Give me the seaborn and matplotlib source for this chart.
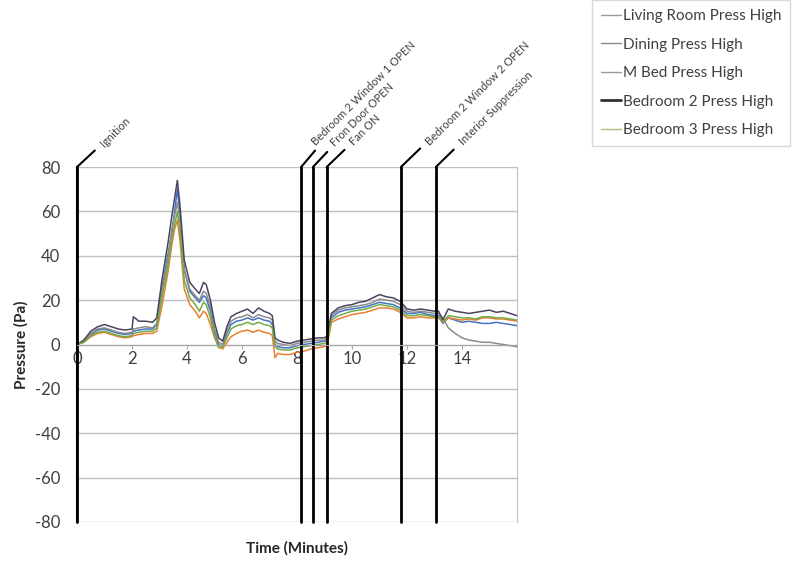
import numpy as np
import pandas as pd
import matplotlib
matplotlib.use("Agg")
import matplotlib.pyplot as plt
from matplotlib.lines import Line2D
import seaborn as sns

# time axis (minutes)
minutes = [0, 0.25, 0.5, 0.75, 1.0, 1.25, 1.5, 1.75, 2.0, 2.05,
           2.25, 2.5, 2.75, 2.9, 3.1, 3.3, 3.45, 3.55, 3.65, 3.75,
           3.9, 4.1, 4.3, 4.45, 4.6, 4.7, 4.85, 5.0, 5.15, 5.3,
           5.45, 5.6, 5.8, 6.0, 6.2, 6.4, 6.6, 6.8, 7.0, 7.1,
           7.2, 7.3, 7.5, 7.75, 8.0, 8.25, 8.5, 8.75, 9.0, 9.1,
           9.25, 9.5, 9.75, 10.0, 10.25, 10.5, 10.75, 11.0, 11.25, 11.5,
           11.75, 12.0, 12.25, 12.5, 12.75, 13.0, 13.15, 13.3, 13.5, 13.75,
           14.0, 14.25, 14.5, 14.75, 15.0, 15.25, 15.5, 15.75, 16.0]

living_room = [0, 1.5, 4.5, 6.5, 7, 6, 5, 4.5, 5, 6,
               6.5, 7, 7, 9, 26, 40, 50, 60, 70, 58,
               34, 24, 21, 19, 22, 21, 15, 6, 0, -1,
               5, 9, 10.5, 11, 12, 11, 12, 11, 10.5, 9,
               0, -1, -1.5, -1.5, -0.5, 0, 0.5, 1, 1.5, 2.5,
               12, 14.5, 15.5, 16, 16.5, 17, 18, 19, 18.5, 18,
               16.5, 14, 14, 14.5, 13.5, 13, 13, 9.5, 12, 11,
               10, 10.5, 10, 9.5, 9.5, 10, 9.5, 9, 8.5]

dining = [0, 1, 3.5, 5, 5.5, 4.5, 3.5, 3, 3.5, 4,
          4.5, 5, 5, 6, 18, 32, 45, 52, 56, 46,
          25, 18, 15, 12, 15, 14, 9, 3, -1, -2,
          1, 3.5, 5, 6, 6.5, 5.5, 6.5, 5.5, 5, 4,
          -6, -4, -4.5, -4.5, -3.5, -3, -2, -1.5, -1, 0,
          10, 11.5, 12.5, 13.5, 14, 14.5, 15.5, 16.5, 16.5, 16,
          14.5, 12, 12, 12.5, 12, 12, 12, 10, 12, 11.5,
          11, 11.5, 11, 12, 12, 11.5, 11.5, 11, 10.5]

m_bed = [0, 1.5, 5, 7, 7.5, 6.5, 5.5, 5, 5.5, 7,
         7.5, 8, 7.5, 9.5, 25, 38, 52, 58, 64, 55,
         33, 25, 22, 20, 24, 23, 17, 7, 1, 0,
         6, 10.5, 12, 12.5, 13.5, 12, 13.5, 12.5, 12, 11,
         1.5, 0.5, 0, -0.5, 0.5, 1, 1.5, 2, 2, 3,
         13, 15.5, 16.5, 17, 17.5, 18, 19, 20.5, 20, 19.5,
         18, 15, 14.5, 15, 14.5, 14, 14, 12, 7.5, 5,
         3, 2, 1.5, 1, 1, 0.5, 0, -0.5, -1]

bedroom_2 = [0, 2, 6, 8, 9, 8, 7, 6.5, 7, 12.5,
             10.5, 10.5, 10, 12, 30, 45, 58, 66, 74, 62,
             38, 28, 25, 23, 28, 27, 20, 10, 3, 1.5,
             8, 12.5, 14, 15, 16, 14, 16.5, 15, 14, 13,
             3, 2, 1, 0.5, 1.5, 2, 2.5, 3, 3, 4,
             14, 16.5, 17.5, 18, 19, 19.5, 21, 22.5, 21.5, 21,
             19.5, 16, 15.5, 16, 15.5, 15, 15, 11, 16, 15,
             14.5, 14, 14.5, 15, 15.5, 14.5, 15, 14, 13]

bedroom_3 = [0, 1, 4, 5.5, 6, 5, 4, 3.5, 4, 5,
             5.5, 6, 6, 7.5, 22, 35, 48, 54, 60, 50,
             29, 21, 18, 15, 19, 18, 12, 4, -1.5, -1,
             3, 7, 8.5, 9, 10, 9, 10, 9, 8.5, 7.5,
             -1, -2, -2.5, -2.5, -1.5, -1, -0.5, 0, 0.5, 1.5,
             11, 13, 14, 15, 15.5, 16, 17, 18, 17.5, 17,
             15.5, 13, 13, 13.5, 13, 12.5, 12.5, 10, 13, 12.5,
             12, 12, 11.5, 12.5, 12.5, 12, 12, 11.5, 11]

series_names = ["Living Room Press High", "Dining Press High", "M Bed Press High",
                "Bedroom 2 Press High", "Bedroom 3 Press High"]
series_values = [living_room, dining, m_bed, bedroom_2, bedroom_3]
line_colors = ["#4472C4", "#ED7D31", "#8C8C8C", "#4A4460", "#70AD47"]
legend_colors = ["#9A9A9A", "#8A8A8A", "#9A9A9A", "#303030", "#B8BC78"]

# events (minutes)
events = ["Ignition", "Bedroom 2 Window 1 OPEN", "Fron Door OPEN", "Fan ON",
          "Bedroom 2 Window 2 OPEN", "Interior Suppression"]
event_times = [0, 8.15, 8.58, 9.08, 11.78, 13.05]

frames = []
for name, vals in zip(series_names, series_values):
    frames.append(pd.DataFrame({"Time": minutes, "Pressure": vals, "Series": name}))
df = pd.concat(frames, ignore_index=True)

sns.set_style("white")
plt.rcParams["font.family"] = ["Lato", "DejaVu Sans"]
plt.rcParams["axes.unicode_minus"] = False

fig = plt.figure(figsize=(7.92, 5.67), dpi=100)
ax = fig.add_axes([77 / 792, 1 - 522 / 567, 440 / 792, 355 / 567])

sns.lineplot(data=df, x="Time", y="Pressure", hue="Series", hue_order=series_names,
             palette=dict(zip(series_names, line_colors)), linewidth=1.1,
             legend=False, ax=ax)

ax.set_xlim(0, 16)
ax.set_ylim(-80, 80)
ax.set_yticks(range(-80, 81, 20))
ax.set_xticks(range(0, 15, 2))
ax.yaxis.grid(True, color="#BFBFBF", linewidth=1)
ax.set_axisbelow(True)

ax.spines["top"].set_visible(False)
ax.spines["right"].set_color("#BFBFBF")
ax.spines["left"].set_color("black")
ax.spines["left"].set_linewidth(1.5)
ax.spines["bottom"].set_position(("data", 0))
ax.spines["bottom"].set_color("#A6A6A6")
ax.tick_params(axis="x", length=3, color="#A6A6A6", labelsize=12, pad=2,
               labelcolor="#404040")
ax.tick_params(axis="y", length=0, labelsize=12, pad=12, labelcolor="#404040")
ax.xaxis.set_ticks_position("bottom")

ax.set_xlabel("Time (Minutes)", fontsize=11, fontweight="bold", labelpad=0)
ax.xaxis.set_label_coords(0.5, -0.055)
ax.set_ylabel("Pressure (Pa)", fontsize=11, fontweight="bold")
ax.yaxis.set_label_coords(-0.11, 0.5)

# leader offsets (points) for each event label
offsets = [(18, 16), (9, 17), (14, 16), (18, 17), (19, 17), (18, 17)]
for name, t, off in zip(events, event_times, offsets):
    ax.plot([t, t], [-80, 80], color="black", linewidth=2, clip_on=False)
    ax.annotate(name, xy=(t, 80), xytext=off, textcoords="offset points",
                fontsize=8, rotation=45, rotation_mode="anchor",
                ha="left", va="center", color="#404040",
                arrowprops=dict(arrowstyle="-", color="black", lw=1.5,
                                shrinkA=0, shrinkB=0))

handles = [Line2D([0], [0], color=c, lw=2 if i == 3 else 1)
           for i, c in enumerate(legend_colors)]
leg = fig.legend(handles, series_names, loc="upper left",
                 bbox_to_anchor=(592 / 792, 1.0), frameon=True, fancybox=False,
                 fontsize=11, handlelength=1.3, handletextpad=0.1,
                 labelspacing=0.95, borderpad=0.6, borderaxespad=0)
leg.get_frame().set_edgecolor("#D0D0D0")
leg.get_frame().set_linewidth(1)
for txt in leg.get_texts():
    txt.set_color("#404040")

fig.savefig("out.png", dpi=100)
